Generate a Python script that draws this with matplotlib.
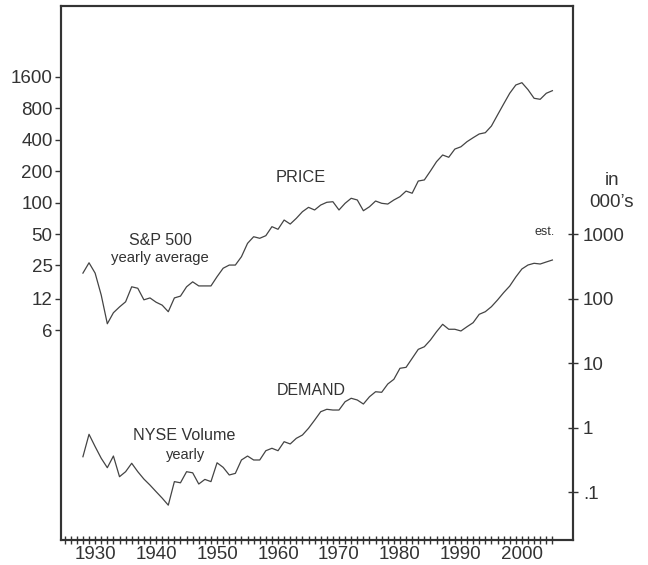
import numpy as np
import matplotlib
matplotlib.use("Agg")
import matplotlib.pyplot as plt
from matplotlib.ticker import FixedLocator, NullLocator

plt.rcParams['font.family'] = ['Liberation Sans', 'DejaVu Sans']

years = np.arange(1928, 2006)

# S&P 500 yearly average (left axis)
sp500 = [21.1, 26.5, 21.1, 13.0, 6.9, 8.8, 10.0, 11.2, 15.6, 15.1,
         11.7, 12.2, 11.1, 10.4, 9.0, 12.2, 12.7, 15.6, 17.4, 15.9,
         15.9, 15.9, 19.5, 23.5, 25.2, 25.2, 30.3, 40.7, 47.1, 45.5,
         48.2, 58.8, 55.5, 68.1, 62.3, 70.7, 81.8, 90.1, 85.0, 94.8,
         100.7, 102.0, 85.0, 98.5, 110.0, 106.0, 83.6, 91.3, 103.6, 98.5,
         96.9, 106.0, 114.0, 129.0, 123.0, 161.0, 165.0, 201.0, 247.0, 286.0,
         272.0, 326.0, 343.0, 384.0, 419.0, 455.0, 468.0, 542.0, 692.0, 881.0,
         1117.0, 1341.0, 1411.0, 1210.0, 1000.0, 978.0, 1117.0, 1183.0]

# NYSE volume, yearly (right axis, in 000's)
nyse_vol = [0.355, 0.79, 0.51, 0.336, 0.24, 0.364, 0.174, 0.208, 0.281, 0.208,
            0.160, 0.129, 0.102, 0.081, 0.063, 0.146, 0.140, 0.208, 0.200, 0.134,
            0.158, 0.146, 0.286, 0.243, 0.185, 0.196, 0.316, 0.364, 0.316, 0.316,
            0.44, 0.48, 0.44, 0.607, 0.56, 0.685, 0.77, 0.98, 1.31, 1.77,
            1.93, 1.88, 1.88, 2.53, 2.86, 2.69, 2.33, 3.02, 3.61, 3.54,
            4.76, 5.63, 8.34, 8.63, 11.9, 16.4, 18.0, 22.9, 30.8, 40.1,
            33.6, 33.6, 31.6, 36.8, 42.5, 57.3, 62.9, 75.2, 95.5, 124.0,
            157.0, 217.0, 289.0, 333.0, 354.0, 345.0, 371.0, 398.0]

left_ticks = [6, 12, 25, 50, 100, 200, 400, 800, 1600]
left_labels = ['6', '12', '25', '50', '100', '200', '400', '800', '1600']
right_ticks = [0.1, 1, 10, 100, 1000]
right_labels = ['.1', '1', '10', '100', '1000']
decades = list(range(1930, 2001, 10))
minor_years = list(range(1925, 2006))

dark = '#333333'
line_c = '#444444'

fig = plt.figure(figsize=(6.48, 5.65), dpi=100)
ax = fig.add_axes([0.0941, 0.0442, 0.7894, 0.9452])
ax2 = ax.twinx()

ax.plot(years, sp500, color=line_c, lw=0.9)
ax2.plot(years, nyse_vol, color=line_c, lw=0.9)

ax.set_xlim(1924.4, 2008.3)
ax.set_yscale('log')
ax.set_ylim(0.0583, 7670)
ax2.set_yscale('log')
ax2.set_ylim(0.01815, 3.45e6)

ax.yaxis.set_major_locator(FixedLocator(left_ticks))
ax.set_yticklabels(left_labels)
ax.yaxis.set_minor_locator(NullLocator())
ax2.yaxis.set_major_locator(FixedLocator(right_ticks))
ax2.set_yticklabels(right_labels)
ax2.yaxis.set_minor_locator(NullLocator())

ax.xaxis.set_major_locator(FixedLocator(decades))
ax.set_xticklabels([str(d) for d in decades])
ax.xaxis.set_minor_locator(FixedLocator(minor_years))

ax.tick_params(axis='x', which='both', direction='inout', length=6, width=1,
               color=dark, labelsize=13.5, labelcolor=dark, pad=1)
ax.tick_params(axis='y', which='both', direction='out', length=4, width=1,
               color=dark, labelsize=13.5, labelcolor=dark, pad=2)
ax2.tick_params(axis='y', which='both', direction='inout', length=7, width=1,
                color=dark, labelsize=13.5, labelcolor=dark, pad=4)

for a in (ax, ax2):
    for s in a.spines.values():
        s.set_linewidth(1.5)
        s.set_color(dark)

ax.text(1963.8, 176, 'PRICE', ha='center', va='center', fontsize=11.8, color=dark)
ax.text(1940.7, 43.8, 'S&P 500', ha='center', va='center', fontsize=11.5, color=dark)
ax.text(1940.7, 29.4, 'yearly average', ha='center', va='center', fontsize=10.7, color=dark)
ax2.text(1965.4, 3.84, 'DEMAND', ha='center', va='center', fontsize=11.5, color=dark)
ax2.text(1944.6, 0.77, 'NYSE Volume', ha='center', va='center', fontsize=11.6, color=dark)
ax2.text(1944.8, 0.378, 'yearly', ha='center', va='center', fontsize=10.5, color=dark)
ax2.text(2003.7, 1081, 'est.', ha='center', va='center', fontsize=9, color=dark)
fig.text(0.944, 0.681, 'in', ha='center', va='center', fontsize=13.5, color=dark)
fig.text(0.944, 0.641, '000\u2019s', ha='center', va='center', fontsize=13.5, color=dark)

fig.savefig('out.png', dpi=100)
